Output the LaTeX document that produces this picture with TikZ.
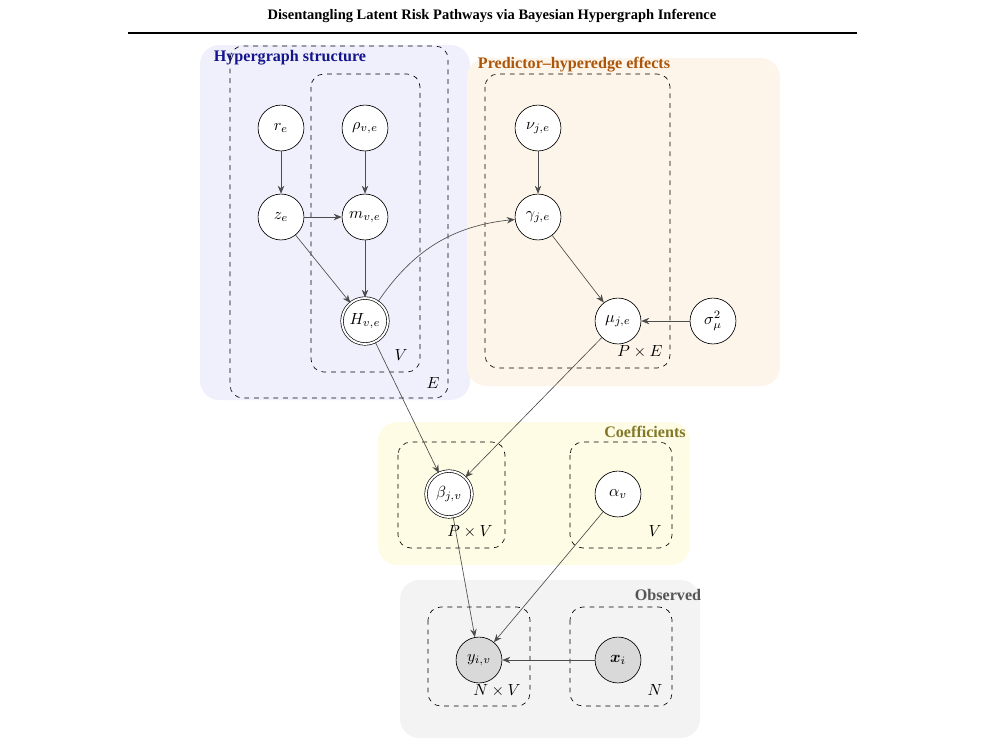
\documentclass[tikz,border=0pt]{standalone}
\usepackage{amsmath,bm}
\usepackage{fontspec}
\newfontfamily\titlefont{Liberation Serif}
\usetikzlibrary{arrows.meta}
\definecolor{hgblue}{RGB}{240,240,252}
\definecolor{hgbluetxt}{RGB}{20,20,140}
\definecolor{peorange}{RGB}{254,245,234}
\definecolor{peorangetxt}{RGB}{170,85,10}
\definecolor{coyellow}{RGB}{254,252,228}
\definecolor{coyellowtxt}{RGB}{130,120,40}
\definecolor{obgray}{RGB}{243,243,243}
\definecolor{obgraytxt}{RGB}{85,85,85}
\begin{document}
\begin{tikzpicture}[x=0.621pt,y=-0.621pt,
    latent/.style={circle,draw,fill=white,minimum size=28.5pt,inner sep=0pt},
    detnode/.style={latent,double,double distance=1.2pt},
    obs/.style={latent,fill=black!15},
    edge/.style={draw=black!70,-{Stealth[length=5pt,width=4pt]}},
    plate/.style={draw,dashed,rounded corners=8pt},
    group/.style={rounded corners=12pt},
    grouptitle/.style={font=\titlefont\bfseries},
  ]
  \useasboundingbox (0,0) rectangle (985,754);

  % page header
  \node[font=\titlefont\small\bfseries] (header) at (492,16) {Disentangling Latent Risk Pathways via Bayesian Hypergraph Inference};
  \draw[line width=0.8pt] (128,33) -- (857,33);

  % coloured groups
  \fill[group,hgblue] (200,45) rectangle (470,400);
  \fill[group,peorange] (467,58) rectangle (780,386);
  \fill[group,coyellow] (378,422) rectangle (690,565);
  \fill[group,obgray] (400,580) rectangle (700,738);
  \node[grouptitle,text=hgbluetxt] (tstruct) at (290,58) {Hypergraph structure};
  \node[grouptitle,text=peorangetxt] (teff) at (574,65) {Predictor–hyperedge effects};
  \node[grouptitle,text=coyellowtxt] (tcoef) at (645,432) {Coefficients};
  \node[grouptitle,text=obgraytxt] (tobs) at (668,595) {Observed};

  % plates
  \draw[plate] (230,46) rectangle (448,398);
  \node (lE) at (433,383) {$E$};
  \draw[plate] (311,74) rectangle (420,372);
  \node (lV1) at (401,355) {$V$};
  \draw[plate] (485,74) rectangle (670,368);
  \node (lPE) at (640,352) {$P \times E$};
  \draw[plate] (398,442) rectangle (505,548);
  \node (lPV) at (470,532) {$P \times V$};
  \draw[plate] (570,442) rectangle (672,548);
  \node (lV2) at (655,531) {$V$};
  \draw[plate] (428,607) rectangle (530,706);
  \node (lNV) at (497,691) {$N \times V$};
  \draw[plate] (570,607) rectangle (672,706);
  \node (lN) at (655,690) {$N$};

  % nodes
  \node[latent] (r) at (281,128) {$r_e$};
  \node[latent] (rho) at (365,128) {$\rho_{v,e}$};
  \node[latent] (z) at (281,217) {$z_e$};
  \node[latent] (m) at (365,217) {$m_{v,e}$};
  \node[detnode] (H) at (365,321) {$H_{v,e}$};
  \node[latent] (nu) at (538,128) {$\nu_{j,e}$};
  \node[latent] (gamma) at (538,217) {$\gamma_{j,e}$};
  \node[latent] (mu) at (618,321) {$\mu_{j,e}$};
  \node[latent] (sigma) at (713,321) {$\sigma_\mu^2$};
  \node[detnode] (beta) at (449,494) {$\beta_{j,v}$};
  \node[latent] (alpha) at (618,494) {$\alpha_v$};
  \node[obs] (y) at (479,660) {$y_{i,v}$};
  \node[obs] (x) at (618,660) {$\bm{x}_i$};

  % edges
  \draw[edge] (r) -- (z);
  \draw[edge] (rho) -- (m);
  \draw[edge] (z) -- (m);
  \draw[edge] (z) -- (H);
  \draw[edge] (m) -- (H);
  \draw[edge] (H) to[bend left=25] (gamma);
  \draw[edge] (nu) -- (gamma);
  \draw[edge] (gamma) -- (mu);
  \draw[edge] (sigma) -- (mu);
  \draw[edge] (H) -- (beta);
  \draw[edge] (mu) -- (beta);
  \draw[edge] (beta) -- (y);
  \draw[edge] (alpha) -- (y);
  \draw[edge] (x) -- (y);
\end{tikzpicture}
\end{document}
